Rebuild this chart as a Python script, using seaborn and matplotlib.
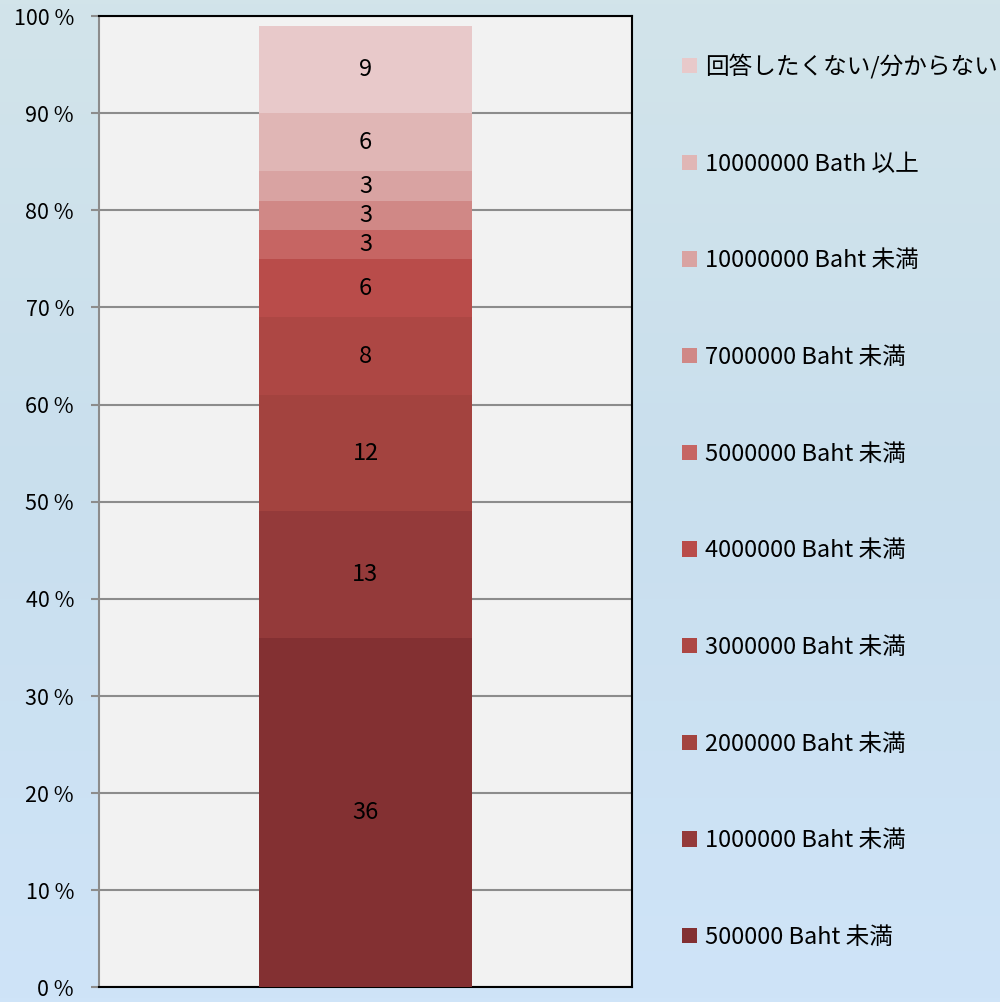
import numpy as np
import pandas as pd
import matplotlib
matplotlib.use("Agg")
import matplotlib.pyplot as plt
import seaborn as sns
from matplotlib.patches import Patch

# data, bottom segment first
labels = ["500000 Baht 未満", "1000000 Baht 未満", "2000000 Baht 未満",
          "3000000 Baht 未満", "4000000 Baht 未満", "5000000 Baht 未満",
          "7000000 Baht 未満", "10000000 Baht 未満", "10000000 Bath 以上",
          "回答したくない/分からない"]
values = [36, 13, 12, 8, 6, 3, 3, 3, 6, 9]
colors = ["#833032", "#943a3a", "#a3433f", "#ad4744", "#b94c4a",
          "#c66563", "#d08886", "#d9a3a2", "#e0b6b5", "#e8c9ca"]

sns.set_style("white")
plt.rcParams["font.family"] = ["Noto Sans CJK JP", "DejaVu Sans"]
plt.rcParams["text.color"] = "black"
plt.rcParams["ytick.labelcolor"] = "black"

fig = plt.figure(figsize=(10, 10.02), dpi=100)

# soft blue background
bg = fig.add_axes([0, 0, 1, 1], zorder=-10)
grad = np.linspace(0, 1, 256).reshape(-1, 1)
cmap = matplotlib.colors.LinearSegmentedColormap.from_list("bg", ["#d2e4ea", "#c9dfee", "#cfe4f8"])
bg.imshow(grad, aspect="auto", cmap=cmap, extent=[0, 1, 0, 1])
bg.axis("off")

ax = fig.add_axes([0.099, 0.0145, 0.533, 0.9695])
ax.set_facecolor("#f2f2f2")

cum = np.cumsum(values)

# draw cumulative bars from tallest to shortest so they stack visually
for i in range(len(values) - 1, -1, -1):
    sns.barplot(x=["a"], y=[cum[i]], color=colors[i], width=0.4,
                saturation=1, ax=ax, zorder=3, linewidth=0)

starts = cum - np.array(values)
for v, s in zip(values, starts):
    ax.text(0, s + v / 2, str(v), ha="center", va="center", fontsize=17,
            color="black", zorder=5)

ax.set_xlim(-0.5, 0.5)
ax.set_ylim(0, 100)
ax.set_yticks(range(0, 101, 10))
ax.set_yticklabels([f"{t} %" for t in range(0, 101, 10)], fontsize=15.5,
                   va="center_baseline")
ax.set_xticks([])
ax.set_xlabel("")
ax.set_ylabel("")
ax.yaxis.grid(True, color="#8c8c8c", linewidth=1.5, zorder=0)
ax.set_axisbelow(True)
ax.tick_params(axis="y", left=True, length=6, width=1.5, color="#8c8c8c", pad=12)
for side in ["top", "right", "bottom"]:
    ax.spines[side].set_color("black")
    ax.spines[side].set_linewidth(1.5)
ax.spines["left"].set_color("#8c8c8c")
ax.spines["left"].set_linewidth(1.5)

handles = [Patch(facecolor=c, edgecolor="none") for c in colors[::-1]]
fig.legend(handles, labels[::-1], loc="upper left", bbox_to_anchor=(0.682, 0.946),
           frameon=False, fontsize=17, handlelength=0.62, handleheight=0.62,
           handletextpad=0.35, labelspacing=3.12, borderpad=0, borderaxespad=0)

fig.savefig("out.png", dpi=100)
